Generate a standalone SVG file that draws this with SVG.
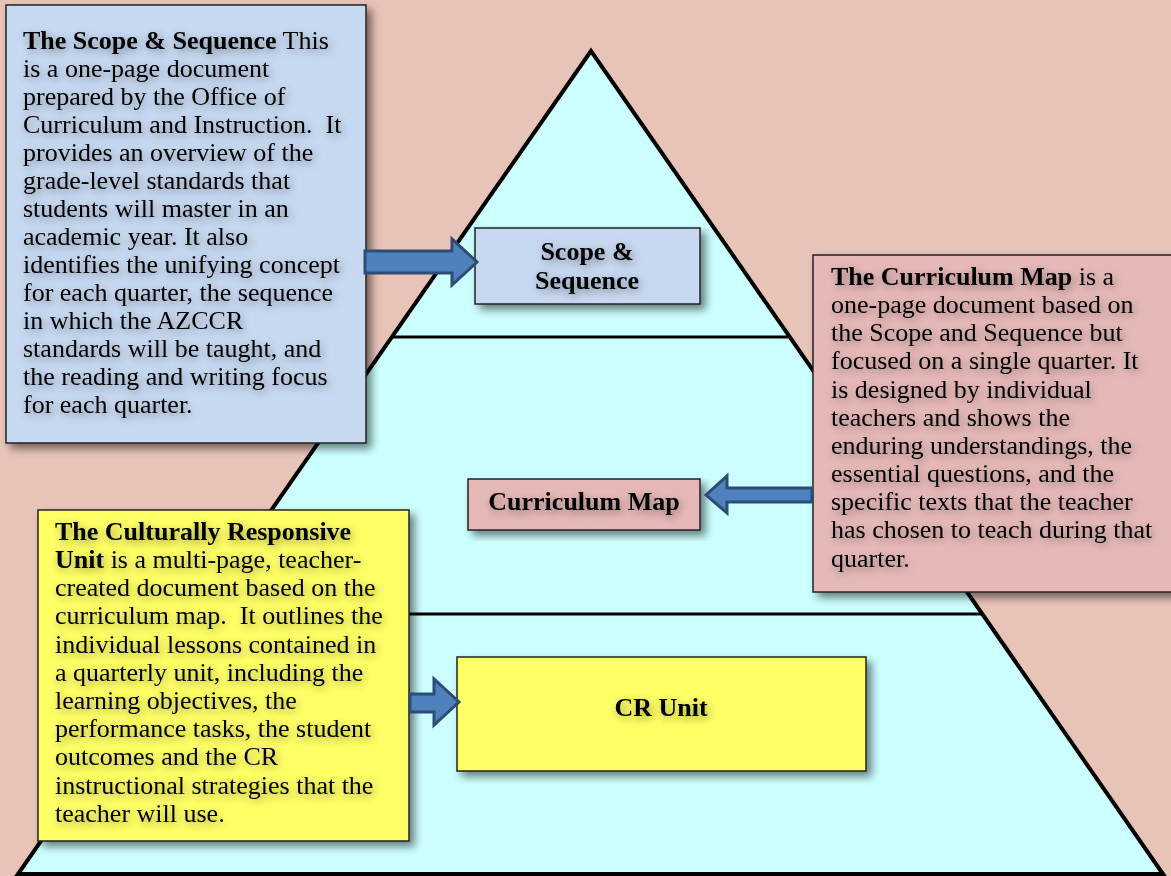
<svg xmlns="http://www.w3.org/2000/svg" width="1171" height="876" viewBox="0 0 1171 876">
<defs>
<style>
.t{font-family:"Liberation Serif","Times New Roman",serif;font-size:26px;fill:#000;}
.b{font-weight:bold;}
.box{stroke:#222;stroke-width:1.5;}
.arrow{fill:#4F81BD;stroke:#2C4D75;stroke-width:3;stroke-linejoin:miter;}
.lvl{stroke:#000;stroke-width:3;fill:none;}
</style>
<filter id="bs" x="-10%" y="-10%" width="130%" height="130%">
<feGaussianBlur in="SourceAlpha" stdDeviation="4"/>
<feOffset dx="5" dy="5" result="o"/>
<feComponentTransfer><feFuncA type="linear" slope="0.5"/></feComponentTransfer>
<feMerge><feMergeNode/><feMergeNode in="SourceGraphic"/></feMerge>
</filter>
<filter id="ts" x="-10%" y="-30%" width="120%" height="170%">
<feGaussianBlur in="SourceAlpha" stdDeviation="5"/>
<feOffset dx="2" dy="3" result="o"/>
<feComponentTransfer><feFuncA type="linear" slope="0.4"/></feComponentTransfer>
<feMerge><feMergeNode/><feMergeNode in="SourceGraphic"/></feMerge>
</filter>
</defs>
<rect x="0" y="0" width="1171" height="876" fill="#E8C3B8"/>
<g id="pyramid">
<polygon points="591,51 18,874 1163,874" fill="#CCFFFF" stroke="#000" stroke-width="4" stroke-linejoin="miter"/>
<line class="lvl" x1="393" y1="337" x2="789" y2="337"/>
<line class="lvl" x1="199" y1="614" x2="983" y2="614"/>
</g>
<g id="scope-desc">
<rect class="box" x="6" y="5" width="360" height="438" fill="#C6D9F1" filter="url(#bs)"/>
<text class="t" x="23" filter="url(#ts)">
<tspan x="23" y="49"><tspan class="b">The Scope &amp; Sequence</tspan> This</tspan>
<tspan x="23" y="77">is a one-page document</tspan>
<tspan x="23" y="105">prepared by the Office of</tspan>
<tspan x="23" y="133">Curriculum and Instruction.&#160; It</tspan>
<tspan x="23" y="161">provides an overview of the</tspan>
<tspan x="23" y="189">grade-level standards that</tspan>
<tspan x="23" y="217">students will master in an</tspan>
<tspan x="23" y="245">academic year. It also</tspan>
<tspan x="23" y="273">identifies the unifying concept</tspan>
<tspan x="23" y="301">for each quarter, the sequence</tspan>
<tspan x="23" y="329">in which the AZCCR</tspan>
<tspan x="23" y="357">standards will be taught, and</tspan>
<tspan x="23" y="385">the reading and writing focus</tspan>
<tspan x="23" y="413">for each quarter.</tspan>
</text>
</g>
<g id="scope-node">
<rect class="box" x="475" y="228" width="225" height="76" fill="#C6D9F1" filter="url(#bs)"/>
<text class="t b" text-anchor="middle" filter="url(#ts)"><tspan x="587" y="260">Scope &amp;</tspan><tspan x="587" y="289">Sequence</tspan></text>
</g>
<g id="map-desc">
<rect class="box" x="813" y="255" width="370" height="337" fill="#E6B9B8" filter="url(#bs)"/>
<text class="t" filter="url(#ts)">
<tspan x="831" y="285"><tspan class="b">The Curriculum Map</tspan> is a</tspan>
<tspan x="831" y="313">one-page document based on</tspan>
<tspan x="831" y="341">the Scope and Sequence but</tspan>
<tspan x="831" y="369">focused on a single quarter. It</tspan>
<tspan x="831" y="398">is designed by individual</tspan>
<tspan x="831" y="426">teachers and shows the</tspan>
<tspan x="831" y="454">enduring understandings, the</tspan>
<tspan x="831" y="482">essential questions, and the</tspan>
<tspan x="831" y="510">specific texts that the teacher</tspan>
<tspan x="831" y="538">has chosen to teach during that</tspan>
<tspan x="831" y="567">quarter.</tspan>
</text>
</g>
<g id="map-node">
<rect class="box" x="468" y="479" width="232" height="51" fill="#E6B9B8" filter="url(#bs)"/>
<text class="t b" x="584" y="510" text-anchor="middle" filter="url(#ts)">Curriculum Map</text>
</g>
<g id="cr-desc">
<rect class="box" x="38" y="510" width="371" height="331" fill="#FFFF66" filter="url(#bs)"/>
<text class="t" filter="url(#ts)">
<tspan x="55" y="540" class="b">The Culturally Responsive</tspan>
<tspan x="55" y="568"><tspan class="b">Unit</tspan> is a multi-page, teacher-</tspan>
<tspan x="55" y="596">created document based on the</tspan>
<tspan x="55" y="624">curriculum map.&#160; It outlines the</tspan>
<tspan x="55" y="653">individual lessons contained in</tspan>
<tspan x="55" y="681">a quarterly unit, including the</tspan>
<tspan x="55" y="709">learning objectives, the</tspan>
<tspan x="55" y="737">performance tasks, the student</tspan>
<tspan x="55" y="765">outcomes and the CR</tspan>
<tspan x="55" y="794">instructional strategies that the</tspan>
<tspan x="55" y="822">teacher will use.</tspan>
</text>
</g>
<g id="cr-node">
<rect class="box" x="457" y="657" width="409" height="114" fill="#FFFF66" filter="url(#bs)"/>
<text class="t b" x="661" y="716" text-anchor="middle" filter="url(#ts)">CR Unit</text>
</g>
<g id="connectors">
<polygon class="arrow" points="365,251 452,251 452,239 477,262 452,285 452,273 365,273"/>
<polygon class="arrow" points="812,488 727,488 727,476 706,495 727,513 727,502 812,502"/>
<polygon class="arrow" points="410,694 434,694 434,679 459,702 434,725 434,712 410,712"/>
</g>
</svg>
